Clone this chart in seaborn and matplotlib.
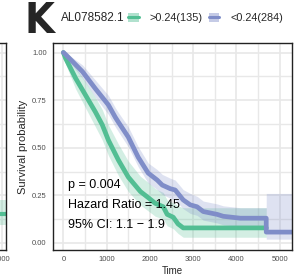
import matplotlib
matplotlib.use("Agg")
import matplotlib.pyplot as plt
from matplotlib.lines import Line2D
from matplotlib.patches import Patch
from matplotlib.ticker import MultipleLocator
import seaborn as sns
import pandas as pd

GREEN = '#52BE93'
BLUE = '#7F8DC8'

GENE = 'AL078582.1'
GROUPS = ('>0.24(135)', '<0.24(284)')

# high group (>0.24, n=135): KM estimate and 95% band
t_hi = [0, 50, 280, 510, 740, 900, 1040, 1270, 1500, 1780, 1950, 2125,
        2309, 2400, 2540, 2650, 2771, 4690]
s_hi = [1.0, 0.97, 0.866, 0.777, 0.688, 0.62, 0.54, 0.436, 0.346, 0.27,
        0.24, 0.208, 0.19, 0.15, 0.135, 0.10, 0.079, 0.079]
lo_hi = [1.0, 0.94, 0.81, 0.71, 0.61, 0.54, 0.46, 0.355, 0.27, 0.20, 0.17,
         0.14, 0.125, 0.09, 0.075, 0.05, 0.03, 0.03]
up_hi = [1.0, 1.0, 0.925, 0.845, 0.765, 0.70, 0.62, 0.52, 0.43, 0.35, 0.32,
         0.285, 0.265, 0.225, 0.21, 0.195, 0.185, 0.185]

# low group (<0.24, n=284)
t_lo = [0, 50, 440, 740, 1040, 1200, 1270, 1500, 1730, 1960, 2170, 2285,
        2470, 2585, 2770, 2933, 3090, 3233, 3555, 3695, 4090, 4689, 4690,
        5285]
s_lo = [1.0, 0.99, 0.9, 0.81, 0.725, 0.66, 0.635, 0.556, 0.45, 0.367, 0.33,
        0.304, 0.285, 0.278, 0.226, 0.20, 0.19, 0.165, 0.15, 0.14, 0.13,
        0.13, 0.057, 0.057]
lo_lo = [1.0, 0.975, 0.865, 0.765, 0.675, 0.61, 0.585, 0.505, 0.40, 0.315,
         0.28, 0.255, 0.235, 0.225, 0.18, 0.155, 0.145, 0.12, 0.105, 0.095,
         0.085, 0.085, 0.02, 0.02]
up_lo = [1.0, 1.0, 0.935, 0.855, 0.775, 0.71, 0.685, 0.61, 0.505, 0.42,
         0.385, 0.36, 0.34, 0.33, 0.28, 0.26, 0.245, 0.22, 0.205, 0.195,
         0.185, 0.185, 0.26, 0.26]

# neighbouring panel, only its right edge shows
t_prev = [4000, 5100]
s_prev = [0.15, 0.15]
lo_prev = [0.094, 0.094]
up_prev = [0.226, 0.226]

X_TICKS = [0, 1000, 2000, 3000, 4000, 5000]
Y_TICKS = [0.0, 0.25, 0.5, 0.75, 1.0]
STATS = ['p = 0.004', 'Hazard Ratio = 1.45', '95% CI: 1.1 \u2212 1.9']

sns.set_style('white')
plt.rcParams['font.family'] = ['Liberation Sans', 'DejaVu Sans']

W, H = 300, 279
fig = plt.figure(figsize=(3.0, 2.79), dpi=100)


def style_axes(ax):
    ax.xaxis.set_minor_locator(MultipleLocator(500))
    ax.yaxis.set_minor_locator(MultipleLocator(0.125))
    ax.grid(which='major', color='#E8E8E8', lw=1.2)
    ax.grid(which='minor', color='#E8E8E8', lw=1.0)
    ax.set_axisbelow(True)
    for sp in ax.spines.values():
        sp.set_color('#222222')
        sp.set_linewidth(1.0)
    ax.tick_params(which='major', length=2.5, width=0.9, color='#222222',
                   labelsize=5.5, labelcolor='#4D4D4D', pad=2)
    ax.tick_params(which='minor', length=0)


def km_frame(t, s, name):
    return pd.DataFrame({'time': t, 'surv': s, 'group': name})


# previous panel fragment
ax0 = fig.add_axes([-200 / W, 1 - 250 / H, 206 / W, 207 / H])
ax0.fill_between(t_prev, lo_prev, up_prev, color=GREEN, alpha=0.25, lw=0)
sns.lineplot(data=km_frame(t_prev, s_prev, GROUPS[0]), x='time', y='surv',
             color=GREEN, lw=3, estimator=None, ax=ax0)
ax0.set_xlim(-240, 5095)
ax0.set_ylim(-0.037, 1.05)
ax0.set_xticks([5000])
ax0.set_yticks(Y_TICKS)
ax0.set_yticklabels([])
style_axes(ax0)
ax0.set_xlabel('')
ax0.set_ylabel('')

# main panel
ax = fig.add_axes([53 / W, 1 - 250 / H, 239 / W, 207 / H])
ax.fill_between(t_hi, lo_hi, up_hi, color=GREEN, alpha=0.25, lw=0)
ax.fill_between(t_lo, lo_lo, up_lo, color=BLUE, alpha=0.25, lw=0)
df = pd.concat([km_frame(t_hi, s_hi, GROUPS[0]),
                km_frame(t_lo, s_lo, GROUPS[1])], ignore_index=True)
sns.lineplot(data=df, x='time', y='surv', hue='group',
             palette={GROUPS[0]: GREEN, GROUPS[1]: BLUE}, lw=3.4,
             estimator=None, legend=False, ax=ax)
ax.set_xlim(-240, 5285)
ax.set_ylim(-0.037, 1.05)
ax.set_xticks(X_TICKS)
ax.set_yticks(Y_TICKS)
ax.set_yticklabels([f'{v:.2f}' for v in Y_TICKS])
style_axes(ax)
ax.set_xlabel('Time', fontsize=7, labelpad=2)
ax.set_ylabel('Survival probability', fontsize=8, labelpad=3)

for i, line in enumerate(STATS):
    ax.text(108, 0.304 - i * 0.105, line, fontsize=9, va='center',
            ha='left', color='black')

# panel letter and legend
fig.text(25 / W, 1 - 21 / H, 'K', fontsize=31, fontweight='bold',
         family=['DejaVu Sans'], fontstretch='condensed',
         va='center', ha='left')
fig.text(61 / W, 1 - 18 / H, GENE, fontsize=8.5, va='center', ha='left')
handles = [(Patch(facecolor=c, alpha=0.45, lw=0),
            Line2D([], [], color=c, lw=2.2))
           for c in (GREEN, BLUE)]
fig.legend(handles, GROUPS, loc='center left',
           bbox_to_anchor=(128 / W, 1 - 18 / H), ncol=2, frameon=False,
           fontsize=7.8, handlelength=1.0, handleheight=0.9,
           handletextpad=1.0, columnspacing=0.55, borderpad=0,
           borderaxespad=0)

fig.savefig('out.png', dpi=100)
